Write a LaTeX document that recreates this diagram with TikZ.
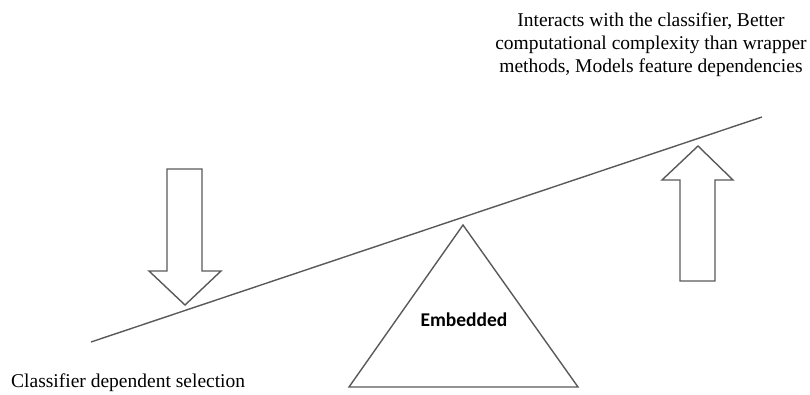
\documentclass[tikz,border=0pt]{standalone}
\usepackage{fontspec}
\setmainfont{Liberation Serif}
\newfontfamily\labelfont{Carlito}
\usepackage{tikz}
\usetikzlibrary{positioning}

\begin{document}
\begin{tikzpicture}[x=1pt,y=-1pt,
outline/.style={draw=black!65, line width=1.4pt, line join=miter},
notetext/.style={align=center, font=\fontsize{19.5}{23}\selectfont, inner sep=0pt},
]
\useasboundingbox (0,0) rectangle (810,394);

%Points
\coordinate (Beam Left) at (91,342);
\coordinate (Beam Right) at (762,117);
\coordinate (Apex) at (463,225);
\coordinate (Base Right) at (578,387);
\coordinate (Base Left) at (349,387);

%Shapes
\draw[outline] (Beam Left) -- (Beam Right);
\draw[outline] (Apex) -- (Base Right) -- (Base Left) -- cycle;
\draw[outline] (167,169) -- (202,169) -- (202,271) -- (221,271) -- (185,305) -- (149,271) -- (167,271) -- cycle;
\draw[outline] (698,146) -- (733,180) -- (715,180) -- (715,281) -- (680,281) -- (680,180) -- (662,180) -- cycle;

%Texts
\node[font=\labelfont\bfseries\fontsize{19.5}{22}\selectfont](Embedded) at (464,320){Embedded};
\node[notetext](Pros) at (651,45){Interacts with the classifier, Better\\ computational complexity than wrapper\\ methods, Models feature dependencies};
\node[notetext, anchor=west](Cons) at (11,383){Classifier dependent selection};

\end{tikzpicture}
\end{document}
